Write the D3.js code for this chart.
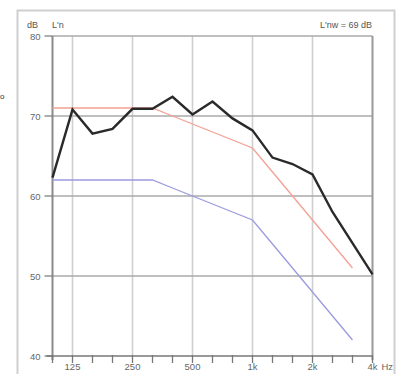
<!DOCTYPE html>
<html><head><meta charset="utf-8">
<script src="https://cdn.jsdelivr.net/npm/d3@7"></script>
<style>body{margin:0;background:#fff;}svg{display:block;}</style>
</head><body>
<script>
const bands = ["100","125","160","200","250","315","400","500","630","800","1000","1250","1600","2000","2500","3150","4000"];
const measured = [62.3,70.8,67.8,68.4,70.9,70.9,72.4,70.2,71.8,69.7,68.2,64.8,64.0,62.7,58.0,54.1,50.2];
const refBands = ["100","125","160","200","250","315","400","500","630","800","1000","1250","1600","2000","2500","3150"];
const refCurve = [62,62,62,62,62,62,61,60,59,58,57,54,51,48,45,42];
const shiftedRef = [71,71,71,71,71,71,70,69,68,67,66,63,60,57,54,51];
const xTickLabels = [["125","125"],["250","250"],["500","500"],["1000","1k"],["2000","2k"],["4000","4k"]];
const yTicks = [40,50,60,70,80];
const gridY = [50,60,70];

const W=401,H=374;
const svg=d3.select("body").append("svg").attr("width",W).attr("height",H);
const x=d3.scalePoint().domain(bands).range([52.5,372.5]);
const y=d3.scaleLinear().domain([40,80]).range([356,36]);
const font="Liberation Sans, Arial, sans-serif";

// outer frame
svg.append("path").attr("d",`M17.5,${H+2}V10.5H394.5V${H+2}`).attr("fill","none").attr("stroke","#cfcfcf").attr("stroke-width",2);
// small glyph at left edge
svg.append("text").attr("x",0).attr("y",99).attr("font-family",font).attr("font-size",8).attr("fill","#333").text("o");

// vertical grid
svg.selectAll(".vg").data(xTickLabels.slice(0,5)).enter().append("line")
 .attr("x1",d=>x(d[0])).attr("x2",d=>x(d[0])).attr("y1",y(80)).attr("y2",y(40))
 .attr("stroke","#cfcfcf").attr("stroke-width",1.6);
// horizontal grid
svg.selectAll(".hg").data(gridY).enter().append("line")
 .attr("x1",x("100")).attr("x2",x("4000")).attr("y1",d=>y(d)).attr("y2",d=>y(d))
 .attr("stroke","#aaaaaa").attr("stroke-width",1.6);
// top & right border
svg.append("line").attr("x1",x("100")).attr("x2",x("4000")).attr("y1",y(80)).attr("y2",y(80)).attr("stroke","#aaaaaa").attr("stroke-width",1.6);
svg.append("line").attr("x1",x("4000")).attr("x2",x("4000")).attr("y1",y(80)).attr("y2",y(40)+4).attr("stroke","#999").attr("stroke-width",2);

// axes
svg.append("line").attr("x1",x("100")).attr("x2",x("100")).attr("y1",y(80)).attr("y2",y(40)+4).attr("stroke","#8a8a8a").attr("stroke-width",2);
svg.append("line").attr("x1",x("100")-6).attr("x2",x("4000")).attr("y1",y(40)).attr("y2",y(40)).attr("stroke","#777").attr("stroke-width",1.6);
// y ticks
svg.selectAll(".yt").data(yTicks).enter().append("line")
 .attr("x1",x("100")-8).attr("x2",x("100")).attr("y1",d=>y(d)).attr("y2",d=>y(d)).attr("stroke","#777").attr("stroke-width",1.2);
svg.selectAll(".yl").data(yTicks).enter().append("text")
 .attr("x",x("100")-12).attr("y",d=>y(d)+3.5).attr("text-anchor","end")
 .attr("font-family",font).attr("font-size",9.5).attr("fill","#666").text(d=>d);
// x ticks
svg.selectAll(".xt").data(bands).enter().append("line")
 .attr("x1",d=>x(d)).attr("x2",d=>x(d)).attr("y1",y(40)-1).attr("y2",y(40)+7).attr("stroke","#777").attr("stroke-width",1.3);
svg.selectAll(".xl").data(xTickLabels).enter().append("text")
 .attr("x",d=>x(d[0])).attr("y",370).attr("text-anchor","middle")
 .attr("font-family",font).attr("font-size",9.5).attr("fill","#666").text(d=>d[1]);
svg.append("text").attr("x",x("4000")+9).attr("y",370).attr("font-family",font).attr("font-size",9.5).attr("fill","#666").text("Hz");

// header texts
svg.append("text").attr("x",27).attr("y",28).attr("font-family",font).attr("font-size",9).attr("fill","#555").text("dB");
svg.append("text").attr("x",52).attr("y",28).attr("font-family",font).attr("font-size",9).attr("fill","#555").text("L'n");
svg.append("text").attr("x",372).attr("y",28).attr("text-anchor","end").attr("font-family",font).attr("font-size",9).attr("fill","#555").text("L'nw = 69 dB");

const line=d3.line().x(d=>x(d[0])).y(d=>y(d[1]));
svg.append("path").attr("d",line(d3.zip(refBands,refCurve))).attr("fill","none").attr("stroke","#9a9ae0").attr("stroke-width",1.3);
svg.append("path").attr("d",line(d3.zip(refBands,shiftedRef))).attr("fill","none").attr("stroke","#f4a092").attr("stroke-width",1.3);
svg.append("path").attr("d",line(d3.zip(bands,measured))).attr("fill","none").attr("stroke","#2a2a2a").attr("stroke-width",2.4).attr("stroke-linejoin","miter");
</script>
</body></html>
